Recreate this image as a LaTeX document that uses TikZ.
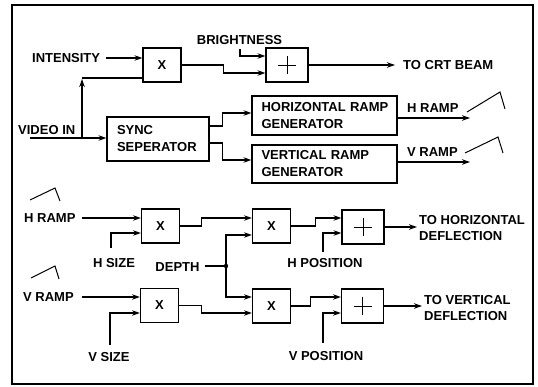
\documentclass[tikz,border=0pt]{standalone}
\usepackage{fontspec}
\setmainfont{Liberation Sans}
\usetikzlibrary{arrows.meta}
\begin{document}
\begin{tikzpicture}[x=1pt,y=-1pt,
  lbl/.style={font=\fontsize{13}{16}\selectfont\bfseries, inner sep=0pt, align=left},
  wire/.style={line width=1.2pt},
  arr/.style={wire, -{Stealth[length=8pt,width=5.5pt]}},
  blk/.style={draw, line width=1.2pt, minimum width=38pt, minimum height=34pt, inner sep=0pt,
    font=\fontsize{13}{16}\selectfont\bfseries},
  sumb/.style={blk, minimum width=42pt,
    path picture={
      \draw[line width=0.9pt] ([xshift=-9pt]path picture bounding box.center) -- ([xshift=9pt]path picture bounding box.center);
      \draw[line width=0.9pt] ([yshift=-9pt]path picture bounding box.center) -- ([yshift=9pt]path picture bounding box.center);}},
  gen/.style={draw, line width=1.2pt, align=left, inner xsep=9.5pt, inner ysep=0pt,
    font=\fontsize{13}{17}\selectfont\bfseries},
  ramp/.style={line width=1pt}
]
\useasboundingbox (0,0) rectangle (538,386);
\draw[line width=2pt] (12,5) rectangle (533,384);

% ---- top section ----
\node[blk] (m1) at (162,65) {X};
\node[sumb] (s1) at (287,65) {};
\node[gen, minimum width=102pt, minimum height=44pt, text width=82pt] (sync) at (158,139) {SYNC\\SEPERATOR};
\node[gen, minimum width=145pt, minimum height=39pt, text width=126pt, inner xsep=9.5pt] (hrg) at (324.5,115.5) {\hbox{HORIZONTAL RAMP}\\GENERATOR};
\node[gen, minimum width=145pt, minimum height=38pt, text width=126pt] (vrg) at (324.5,164) {VERTICAL RAMP\\GENERATOR};

\node[lbl, anchor=west] (lint) at (32,58) {INTENSITY};
\node[lbl] (lbright) at (239.5,40) {BRIGHTNESS};
\node[lbl, anchor=west] (lcrt) at (403,65) {TO CRT BEAM};
\node[lbl, anchor=west] (lvid) at (18,130) {VIDEO IN};
\node[lbl, anchor=west] (lhr) at (407,108) {H RAMP};
\node[lbl, anchor=west] (lvr) at (407,152) {V RAMP};

\coordinate (vin) at (30,138);
\coordinate (vj) at (82,138);
\coordinate (vtop) at (82,78);
\coordinate (bstart) at (240,49);
\coordinate (hout) at (470,118);
\coordinate (vout) at (470,162);

\draw[arr, shorten <=6pt] (lint.east) -- (lint.east -| m1.west);
\draw[arr] (vin) -- (vin -| sync.west);
\draw[arr, shorten >=1pt] (vj) -- (vtop);
\draw[wire] (vtop) -- (vtop -| m1.west);
\draw[arr] (bstart) |- ([yshift=9pt]s1.west);
\draw[arr] (m1.east) -- ++(42,0) |- ([yshift=-8pt]s1.west);
\draw[arr, shorten >=8pt] (s1.east) -- (s1.east -| lcrt.west);
\draw[arr] ([yshift=13pt]sync.east) -- ++(13,0) |- ([yshift=2.5pt]hrg.west);
\draw[arr] ([yshift=-4pt]sync.east) -- ++(13,0) |- ([yshift=4pt]vrg.west);
\draw[arr] (hrg.east |- hout) -- (hout);
\draw[arr] (vrg.east |- vout) -- (vout);
\draw[ramp] (467,112) -- (500,92) -- (505,109);
\draw[ramp] (465,153) -- (498,137) -- (503,153);

% ---- bottom section ----
\node[blk] (m2) at (160.5,226) {X};
\node[blk] (m3) at (271.5,226) {X};
\node[sumb] (s2) at (363,227) {};
\node[blk] (m5) at (159.5,305.5) {X};
\node[blk] (m4) at (271.5,306) {X};
\node[sumb] (s3) at (362.5,306) {};

\node[lbl, anchor=west] (lhramp) at (24,218) {H RAMP};
\node[lbl] (lhsize) at (114,263) {H SIZE};
\node[lbl] (ldepth) at (177.5,267) {DEPTH};
\node[lbl] (lhpos) at (325,263) {H POSITION};
\node[lbl, anchor=west] (lthd) at (419,228) {TO HORIZONTAL\\DEFLECTION};
\node[lbl, anchor=west] (lvramp) at (23,297) {V RAMP};
\node[lbl] (lvsize) at (109,357) {V SIZE};
\node[lbl] (lvpos) at (326,356) {V POSITION};
\node[lbl, anchor=west] (ltvd) at (424,308) {TO VERTICAL\\DEFLECTION};

\coordinate (hs) at (111,248);
\coordinate (dot) at (226,266);
\coordinate (hp) at (323,252);
\coordinate (vs) at (110,345);
\coordinate (vp) at (323,343);

\draw[ramp] (30,200) -- (55,188) -- (60,201);
\draw[ramp] (31,278) -- (55,266) -- (59,279);

\draw[arr, shorten <=6pt] (lhramp.east) -- (lhramp.east -| m2.west);
\draw[arr] (hs) |- ([yshift=-7pt]m2.west);
\draw[arr] (m2.east) -- ++(21,0) |- ([yshift=8pt]m3.west);
\draw[wire, shorten <=5pt] (ldepth.east |- dot) -- (dot);
\fill (dot) circle (2.2pt);
\draw[arr] (dot) |- ([yshift=-9pt]m3.west);
\draw[arr] (dot) |- ([yshift=9pt]m4.west);
\draw[arr] (m3.east) -- ++(24,0) |- ([yshift=9pt]s2.west);
\draw[arr] (hp) |- ([yshift=-6pt]s2.west);
\draw[arr, shorten >=2pt] (s2.east) -- (s2.east -| lthd.west);

\draw[arr, shorten <=8pt] (lvramp.east) -- (lvramp.east -| m5.west);
\draw[arr] (vs) |- ([yshift=-7.5pt]m5.west);
\draw[arr] (m5.east) -- ++(22,0) |- ([yshift=-7pt]m4.west);
\draw[arr] (m4.east) -- ++(19,0) |- ([yshift=9pt]s3.west);
\draw[arr] (vp) |- ([yshift=-7pt]s3.west);
\draw[arr, shorten >=2pt] (s3.east) -- (s3.east -| ltvd.west);
\end{tikzpicture}
\end{document}
